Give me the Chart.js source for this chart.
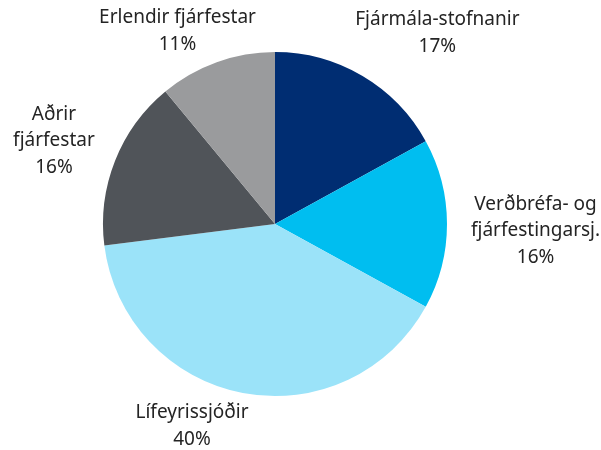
<!DOCTYPE html>
<html>
<head>
<meta charset="utf-8">
<script src="https://cdn.jsdelivr.net/npm/chart.js@4"></script>
<style>
  html, body { margin: 0; padding: 0; background: #fff; }
  #wrap { width: 601px; height: 450px; }
</style>
</head>
<body>
<div id="wrap"><canvas id="chart" width="601" height="450"></canvas></div>
<script>
const labels = [
  ['Fjármála-stofnanir'],
  ['Verðbréfa- og', 'fjárfestingarsj.'],
  ['Lífeyrissjóðir'],
  ['Aðrir', 'fjárfestar'],
  ['Erlendir fjárfestar']
];
const shares = [17, 16, 40, 16, 11];
const colors = ['#002d72', '#00bef0', '#9be3f9', '#505459', '#9a9b9d'];

const FONT = '19px "Noto Sans", sans-serif';
const LINE_H = 26.5;

// draws the outside labels, a bit like the spreadsheet does it
const outsideLabels = {
  id: 'outsideLabels',
  afterDatasetsDraw(chart, args, opts) {
    const ctx = chart.ctx;
    const meta = chart.getDatasetMeta(0);
    const nudge = opts.nudge || [];
    ctx.save();
    ctx.font = FONT;
    ctx.fillStyle = '#242424';
    ctx.textAlign = 'center';
    ctx.textBaseline = 'middle';
    meta.data.forEach((arc, i) => {
      const lines = labels[i].concat([shares[i] + '%']);
      const w = Math.max(...lines.map(l => ctx.measureText(l).width));
      const h = lines.length * LINE_H;
      const mid = (arc.startAngle + arc.endAngle) / 2;
      const s = Math.cos(mid), c = Math.sin(mid);
      const r = arc.outerRadius + 10;
      const px = arc.x + s * r, py = arc.y + c * r;
      const k = 1.5;
      const clamp = v => Math.max(-1, Math.min(1, v));
      const [dx, dy] = nudge[i] || [0, 0];
      const cx = px + w / 2 * clamp(s * k) + dx;
      const cy = py + h / 2 * clamp(c * k) + dy;
      lines.forEach((l, j) => {
        ctx.fillText(l, cx, cy - h / 2 + LINE_H * (j + 0.5));
      });
    });
    ctx.restore();
  }
};

new Chart(document.getElementById('chart'), {
  type: 'pie',
  data: {
    labels: labels.map(l => l.join(' ')),
    datasets: [{
      data: shares,
      backgroundColor: colors,
      borderWidth: 0
    }]
  },
  options: {
    responsive: false,
    animation: false,
    layout: { padding: { left: 103, right: 154, top: 52, bottom: 54 } },
    plugins: {
      legend: { display: false },
      tooltip: { enabled: false },
      outsideLabels: {
        nudge: [[7, -8], [14, 7], [-33, -3], [-11, 6], [4, 5]]
      }
    }
  },
  plugins: [outsideLabels]
});
</script>
</body>
</html>
